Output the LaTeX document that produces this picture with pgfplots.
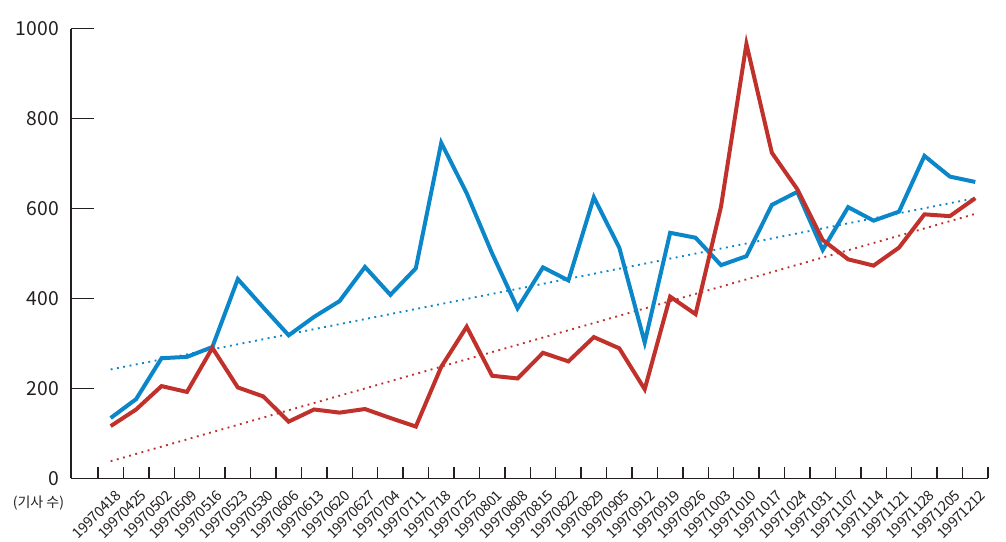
\documentclass[border=0pt]{standalone}
\usepackage{pgfplots}
\pgfplotsset{compat=1.18}
\usepackage{fontspec}
\setmainfont{Noto Sans CJK KR}
\definecolor{cblue}{HTML}{0B87C9}
\definecolor{cred}{HTML}{C1312B}
\definecolor{ink}{HTML}{231F20}

\pgfplotstableread{
x blue red
0 134 116
1 176 153
2 267 205
3 270 192
4 292 290
5 443 202
6 380 182
7 318 126
8 359 153
9 394 146
10 470 154
11 408 134
12 467 115
13 746 248
14 634 337
15 500 228
16 378 222
17 469 279
18 440 260
19 625 314
20 513 289
21 302 198
22 546 404
23 535 365
24 474 604
25 494 966
26 608 724
27 637 643
28 508 530
29 603 487
30 573 473
31 593 513
32 717 587
33 671 583
34 659 623
}\datatable

\begin{document}
\begin{tikzpicture}
\begin{axis}[
  scale only axis, width=687.75pt, height=337.2pt,
  xmin=-1.56, xmax=34.5, ymin=0, ymax=1000,
  axis x line*=bottom, axis y line*=left,
  axis line style={ink, line width=1.1pt},
  xtick={0,...,34},
  xticklabels={19970418,19970425,19970502,19970509,19970516,19970523,19970530,19970606,19970613,19970620,19970627,19970704,19970711,19970718,19970725,19970801,19970808,19970815,19970822,19970829,19970905,19970912,19970919,19970926,19971003,19971010,19971017,19971024,19971031,19971107,19971114,19971121,19971128,19971205,19971212},
  major x tick style={draw=none},
  minor xtick={-0.5,0.5,...,34.5},
  minor tick length=8.25pt,
  major tick length=17pt,
  tick align=inside,
  tick style={ink, line width=1.1pt},
  ytick={0,200,...,1000},
  /pgf/number format/assume math mode=true,
  /pgf/number format/1000 sep={},
  yticklabel style={font=\fontsize{14.5}{16}\selectfont, text=ink, inner sep=0pt, xshift=-9pt},
  xticklabel style={rotate=45, anchor=north east, font=\fontsize{10.8}{12}\selectfont\addfontfeatures{LetterSpace=-3}, text=ink, inner sep=1pt, yshift=-6.5pt, xshift=-2.5pt},
  clip=false,
]
\coordinate (bl) at (rel axis cs:0,0);
\coordinate (tr) at (rel axis cs:1,1);
\addplot[cblue, line width=1.4pt, dash pattern=on 1.4pt off 3.4pt] coordinates {(0,242) (34,623)};
\addplot[cred, line width=1.4pt, dash pattern=on 1.4pt off 3.4pt] coordinates {(0,38) (34,588)};
\addplot[cblue, line width=3pt] table[x=x, y=blue] {\datatable};
\addplot[cred, line width=3pt] table[x=x, y=red] {\datatable};
\node[font=\fontsize{10.5}{12}\selectfont, text=ink, xshift=-24.4pt, yshift=-18.3pt] at (rel axis cs:0,0) {(기사 수)};
\end{axis}
\pgfresetboundingbox
\path (bl) ++(-53.25pt,-47.8pt) coordinate (A);
\path (tr) ++(13.5pt,21.5pt) coordinate (B);
\path (A) rectangle (B);
\end{tikzpicture}
\end{document}
